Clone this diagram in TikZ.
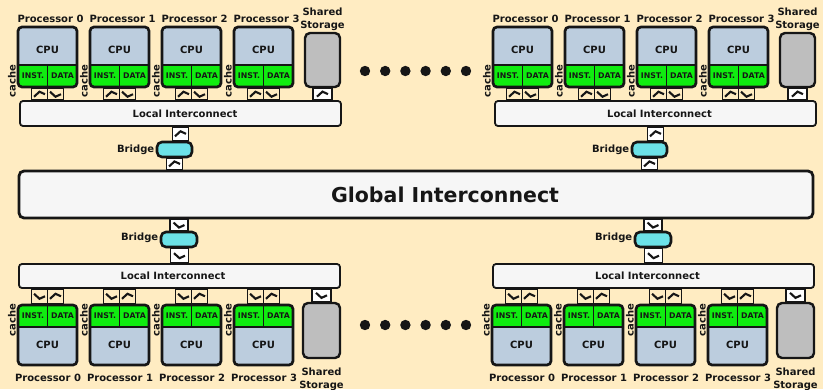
\documentclass[tikz,border=0pt]{standalone}
\usepackage{fontspec}
\setmainfont{DejaVu Sans}
\usetikzlibrary{calc}
\pgfdeclarelayer{back}
\pgfdeclarelayer{links}
\pgfsetlayers{back,links,main}

\definecolor{paper}{RGB}{255,236,194}
\definecolor{ink}{RGB}{22,22,22}
\definecolor{cpufill}{RGB}{188,205,222}
\definecolor{cachefill}{RGB}{16,236,16}
\definecolor{storefill}{RGB}{190,190,190}
\definecolor{bridgefill}{RGB}{108,226,232}
\definecolor{busfill}{RGB}{246,246,246}

\tikzset{
  txt/.style={font=\bfseries\fontsize{10}{13}\selectfont, text=ink, inner sep=0pt, outer sep=0pt},
  small/.style={font=\bfseries\fontsize{7.8}{9}\selectfont, text=ink, inner sep=0pt, outer sep=0pt},
  proc/.style={draw=ink, line width=2.7pt, rounded corners=4pt, minimum width=59pt,
    minimum height=60pt, fill=cpufill, inner sep=0pt},
  proctop/.style={proc, path picture={
     \fill[cachefill, sharp corners] (path picture bounding box.south west) rectangle ([yshift=22pt]path picture bounding box.south east);
     \draw[ink, line width=2pt, sharp corners] ([yshift=22pt]path picture bounding box.south west) -- ([yshift=22pt]path picture bounding box.south east);
     \draw[ink, line width=1.3pt] (path picture bounding box.south) -- ([yshift=22pt]path picture bounding box.south);}},
  procbot/.style={proc, path picture={
     \fill[cachefill, sharp corners] (path picture bounding box.north west) rectangle ([yshift=-22pt]path picture bounding box.north east);
     \draw[ink, line width=2pt, sharp corners] ([yshift=-22pt]path picture bounding box.north west) -- ([yshift=-22pt]path picture bounding box.north east);
     \draw[ink, line width=1.3pt] (path picture bounding box.north) -- ([yshift=-22pt]path picture bounding box.north);}},
  bus/.style={draw=ink, fill=busfill, line width=1.8pt, rounded corners=3pt, inner sep=0pt},
  store/.style={draw=ink, fill=storefill, line width=2.4pt, rounded corners=5pt,
    minimum width=35pt, minimum height=54pt, inner sep=0pt},
  bridgebox/.style={draw=ink, fill=bridgefill, line width=2.6pt, rounded corners=5pt,
    minimum width=35pt, minimum height=15pt, inner sep=0pt},
  linkedge/.style={draw=ink, line width=1.4pt},
  chev/.style={draw=ink, line width=2.1pt, line join=miter},
}

% A link segment between two nodes: [fill]{half width}{from}{to}{x offset}{chevron: +2.5 up, -2.5 down}
\newcommand\linkcell[6]{%
  \path let \p1=($(#3)+(#5,0)$), \p2=(#4) in
    coordinate (lkA) at (\x1,\y1) coordinate (lkB) at (\x1,\y2);
  \begin{pgfonlayer}{links}
    \draw[linkedge, fill=#1] ($(lkA)+(-#2,0)$) rectangle ($(lkB)+(#2,0)$);
    \draw[chev] ($($(lkA)!0.5!(lkB)$)+(-5.5,#6)$) -- ++(5.5,{-2*(#6)}) -- ++(5.5,{#6});
  \end{pgfonlayer}}

% Upper cluster: four processors, shared storage, local interconnect and bridge
\newcommand\topcluster[3]{%
  \foreach \i in {0,...,3}{%
    \pgfmathsetmacro\cx{#2+47.5+72*\i}
    \node[proctop] (#1p\i) at (\cx,57) {};
    \node[txt] (#1cpu\i) at (\cx,50) {CPU};
    \node[small] (#1ins\i) at (\cx-14.5,76) {INST.};
    \node[small] (#1dat\i) at (\cx+15,76) {DATA};
    \node[txt, rotate=90] (#1cac\i) at (\cx-35.5,81) {cache};
    \node[txt] (#1lab\i) at (\cx+3,19) {Processor \i};
  }
  \node[bus, minimum width=321pt, minimum height=25pt] (#1bus) at (#2+180.5,113.5) {};
  \node[txt] (#1buslab) at ($(#1bus.center)+(#3,0)$) {Local Interconnect};
  \node[store] (#1sto) at (#2+322.5,60) {};
  \node[txt, align=center, anchor=south] (#1stolab) at ($(#1sto.north)+(0,-1.5)$) {Shared\\Storage};
  \node[bridgebox] (#1bri) at (#2+174.5,149.5) {};
  \node[txt, anchor=east] (#1brilab) at ($(#1bri.west)+(-1.5,0)$) {Bridge};
  \foreach \i in {0,...,3}{%
    \linkcell{none}{8}{#1p\i.south}{#1bus.north}{-8}{2.5}
    \linkcell{none}{8}{#1p\i.south}{#1bus.north}{8}{-2.5}
  }
  \linkcell{white}{9.5}{#1sto.south}{#1bus.north}{0}{2.5}
  \linkcell{white}{8}{#1bus.south}{#1bri.north}{0}{2.5}
  \linkcell{white}{8}{#1bri.south}{glob.north}{0}{2.5}
}

% Lower cluster, mirrored: caches on top of the processors
\newcommand\botcluster[3]{%
  \foreach \i in {0,...,3}{%
    \pgfmathsetmacro\cx{#2+47.5+72*\i}
    \node[procbot] (#1p\i) at (\cx,335) {};
    \node[txt] (#1cpu\i) at (\cx,345) {CPU};
    \node[small] (#1ins\i) at (\cx-14.5,316) {INST.};
    \node[small] (#1dat\i) at (\cx+15,316) {DATA};
    \node[txt, rotate=90] (#1cac\i) at (\cx-35.5,320) {cache};
    \node[txt] (#1lab\i) at (\cx+0.5,378) {Processor \i};
  }
  \node[bus, minimum width=321pt, minimum height=24pt] (#1bus) at (#2+179.5,276) {};
  \node[txt] (#1buslab) at ($(#1bus.center)+(#3,-0.5)$) {Local Interconnect};
  \node[store, minimum width=37pt, minimum height=55pt] (#1sto) at (#2+321.5,330.5) {};
  \node[txt, align=center, anchor=north] (#1stolab) at ($(#1sto.south)+(0,8.5)$) {Shared\\Storage};
  \node[bridgebox, minimum width=36pt] (#1bri) at (#2+179,239.5) {};
  \node[txt, anchor=east] (#1brilab) at ($(#1bri.west)+(-1.5,-1.5)$) {Bridge};
  \foreach \i in {0,...,3}{%
    \linkcell{none}{8}{#1p\i.north}{#1bus.south}{-8}{-2.5}
    \linkcell{none}{8}{#1p\i.north}{#1bus.south}{8}{2.5}
  }
  \linkcell{white}{9.5}{#1sto.north}{#1bus.south}{0}{-2.5}
  \linkcell{white}{9}{#1bus.north}{#1bri.south}{0}{-2.5}
  \linkcell{white}{9}{#1bri.north}{glob.south}{0}{-2.5}
}

\begin{document}
\begin{tikzpicture}[x=1pt, y=-1pt]
  \begin{pgfonlayer}{back}
    \fill[paper] (0,0) rectangle (823,389);
  \end{pgfonlayer}
  \path[use as bounding box] (0,0) rectangle (823,389);

  % global interconnect
  \node[bus, line width=2.8pt, rounded corners=5pt, minimum width=794pt, minimum height=47pt] (glob) at (416,194.5) {};
  \node[txt, font=\bfseries\fontsize{20.5}{24}\selectfont] (globlab) at (445,194.5) {Global Interconnect};

  \topcluster{tl}{0}{4.5}
  \topcluster{tr}{475}{4}
  \botcluster{bl}{0}{-6.5}
  \botcluster{br}{474}{-6}

  % ellipsis between clusters
  \foreach \k in {0,...,5}{
    \fill[ink] (365+20.2*\k,71) circle (5.2pt);
    \fill[ink] (365+20.2*\k,325) circle (5.2pt);
  }
\end{tikzpicture}
\end{document}
